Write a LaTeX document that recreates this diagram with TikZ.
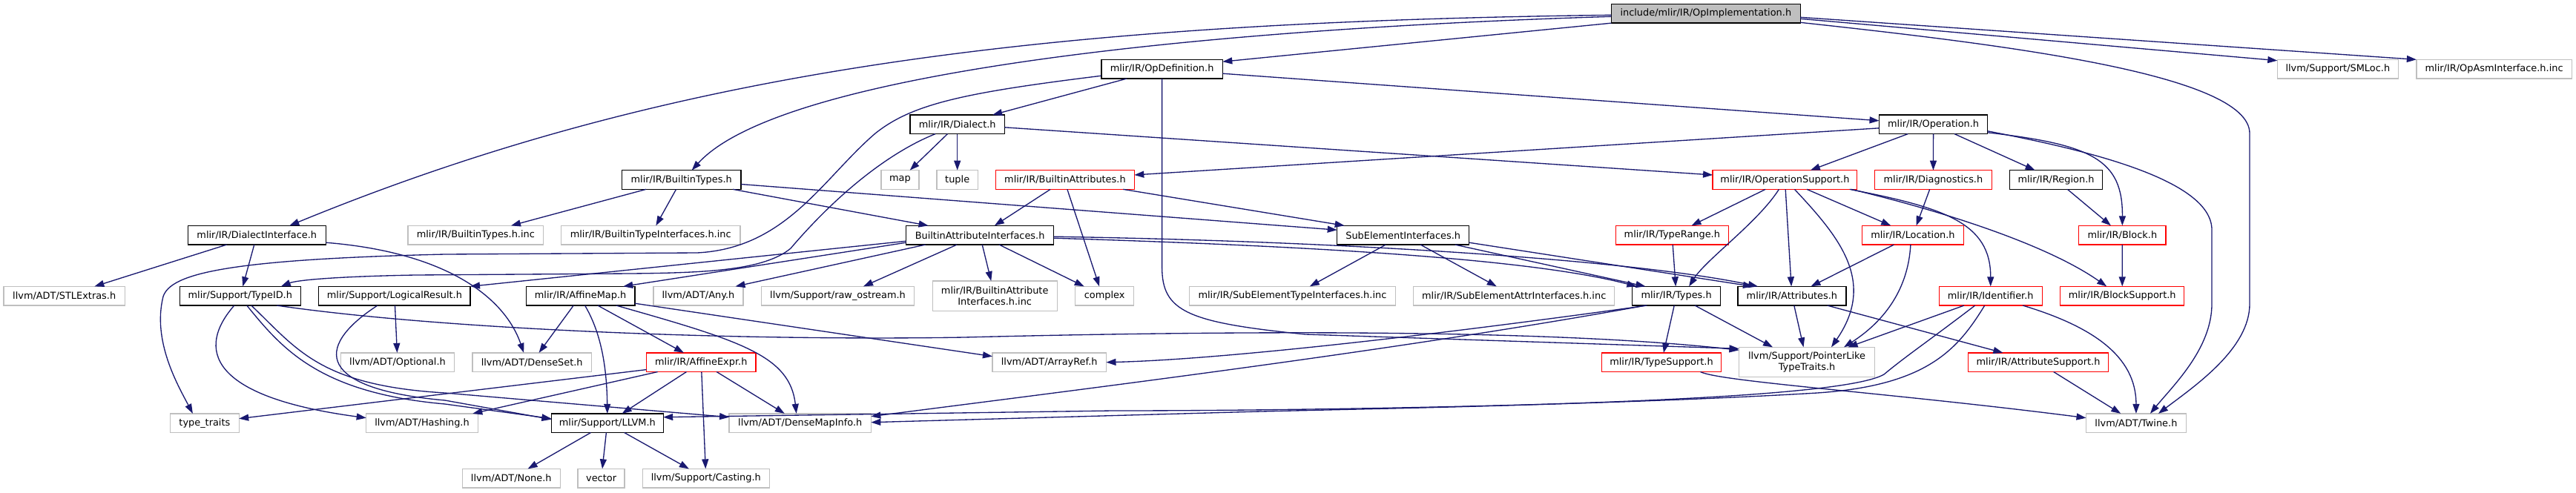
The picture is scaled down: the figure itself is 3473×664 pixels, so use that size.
\documentclass[tikz,border=0pt]{standalone}
\usepackage{fontspec}
\newfontfamily\dvs{DejaVu Sans}
\usetikzlibrary{arrows.meta,calc}
\definecolor{edgec}{HTML}{191970}
\definecolor{greyb}{HTML}{BFBFBF}
\definecolor{redb}{HTML}{FF0000}
\begin{document}
\begin{tikzpicture}[x=1pt,y=-1pt,
 nbox/.style={draw=black, line width=1.33pt, minimum height=25.7pt, inner sep=0pt, outer sep=0pt,
   font=\dvs\fontsize{12.9}{14.5}\selectfont, text=black, fill=white, align=center},
 extbox/.style={nbox, draw=greyb},
 redbox/.style={nbox, draw=redb},
 rootbox/.style={nbox, fill=greyb},
 dep/.style={draw=edgec, line width=1.33pt, -{Triangle[length=13pt,width=9pt]}}
]
\useasboundingbox (0,0) rectangle (3473,664);
% row 0
\node[rootbox, minimum width=254.8pt] (root) at (2299.8,18.3) {include/mlir/IR/OpImplementation.h};
% row 1
\node[nbox, minimum width=163.4pt] (opdef) at (1566.6,93.2) {mlir/IR/OpDefinition.h};
\node[extbox, minimum width=163pt] (smloc) at (3151.8,93.2) {llvm/Support/SMLoc.h};
\node[extbox, minimum width=209.6pt] (opasm) at (3362.6,93.2) {mlir/IR/OpAsmInterface.h.inc};
% row 2
\node[nbox, minimum width=127.4pt] (dialect) at (1290.7,167.8) {mlir/IR/Dialect.h};
\node[nbox, minimum width=146.2pt] (operation) at (2606.6,167.8) {mlir/IR/Operation.h};
% row 3
\node[nbox, minimum width=160.7pt] (btypes) at (918.7,242.5) {mlir/IR/BuiltinTypes.h};
\node[extbox, minimum width=51pt] (map) at (1213.4,242.5) {map};
\node[extbox, minimum width=55.5pt] (tuple) at (1290.7,242.5) {tuple};
\node[redbox, minimum width=186.8pt] (battrs) at (1435.9,242.5) {mlir/IR/BuiltinAttributes.h};
\node[redbox, minimum width=194.7pt] (opsupport) at (2406.4,242.5) {mlir/IR/OperationSupport.h};
\node[redbox, minimum width=158pt] (diag) at (2606.4,242.5) {mlir/IR/Diagnostics.h};
\node[nbox, minimum width=125.5pt] (region) at (2772,242.5) {mlir/IR/Region.h};
% row 4
\node[nbox, minimum width=186pt] (diif) at (346.3,317.2) {mlir/IR/DialectInterface.h};
\node[extbox, minimum width=182.7pt] (btinc) at (641.3,317.2) {mlir/IR/BuiltinTypes.h.inc};
\node[extbox, minimum width=241.5pt] (btiinc) at (877.2,317.2) {mlir/IR/BuiltinTypeInterfaces.h.inc};
\node[nbox, minimum width=199pt] (bai) at (1321.1,317.2) {BuiltinAttributeInterfaces.h};
\node[nbox, minimum width=178pt] (sei) at (1891.7,317.2) {SubElementInterfaces.h};
\node[redbox, minimum width=152.3pt] (typerange) at (2254.3,317.2) {mlir/IR/TypeRange.h};
\node[redbox, minimum width=136.6pt] (location) at (2578.9,317.2) {mlir/IR/Location.h};
\node[redbox, minimum width=117.5pt] (block) at (2861.3,317.2) {mlir/IR/Block.h};
% row 5
\node[extbox, minimum width=163.4pt] (stlextras) at (86.7,399.2) {llvm/ADT/STLExtras.h};
\node[nbox, minimum width=163pt] (typeid) at (323.8,399.2) {mlir/Support/TypeID.h};
\node[nbox, minimum width=204.2pt] (logical) at (531.9,399.2) {mlir/Support/LogicalResult.h};
\node[nbox, minimum width=146.5pt] (affinemap) at (782.6,399.2) {mlir/IR/AffineMap.h};
\node[extbox, minimum width=121.3pt] (any) at (941.5,399.2) {llvm/ADT/Any.h};
\node[extbox, minimum width=206.5pt] (rawos) at (1129.5,399.2) {llvm/Support/raw\_ostream.h};
\node[extbox, minimum width=168pt, minimum height=40.3pt] (baiinc) at (1341.2,399.2) {mlir/IR/BuiltinAttribute\\Interfaces.h.inc};
\node[extbox, minimum width=78.8pt] (complex) at (1489.1,399.2) {complex};
\node[extbox, minimum width=277.7pt] (setinc) at (1742.4,399.2) {mlir/IR/SubElementTypeInterfaces.h.inc};
\node[extbox, minimum width=271pt] (seainc) at (2041.2,399.2) {mlir/IR/SubElementAttrInterfaces.h.inc};
\node[nbox, minimum width=119.4pt] (types) at (2260.1,399.2) {mlir/IR/Types.h};
\node[nbox, minimum width=145.8pt] (attrs) at (2415.9,399.2) {mlir/IR/Attributes.h};
\node[redbox, minimum width=138.9pt] (identifier) at (2683.7,399.2) {mlir/IR/Identifier.h};
\node[redbox, minimum width=167pt] (blocksupport) at (2861.2,399.2) {mlir/IR/BlockSupport.h};
% row 6
\node[extbox, minimum width=153pt] (optional) at (536,488.7) {llvm/ADT/Optional.h};
\node[extbox, minimum width=160.4pt] (denseset) at (717.2,488.7) {llvm/ADT/DenseSet.h};
\node[redbox, minimum width=147.4pt] (affineexpr) at (945.3,488.7) {mlir/IR/AffineExpr.h};
\node[extbox, minimum width=153.5pt] (arrayref) at (1414.7,488.7) {llvm/ADT/ArrayRef.h};
\node[redbox, minimum width=161pt] (typesupport) at (2240,488.7) {mlir/IR/TypeSupport.h};
\node[extbox, minimum width=183pt, minimum height=40pt] (pltt) at (2436,488.3) {llvm/Support/PointerLike\\TypeTraits.h};
\node[redbox, minimum width=188.6pt] (attrsupport) at (2748,488.7) {mlir/IR/AttributeSupport.h};
% row 7
\node[extbox, minimum width=92.6pt] (typetraits) at (275.9,570.7) {type\_traits};
\node[extbox, minimum width=150.6pt] (hashing) at (569,570.7) {llvm/ADT/Hashing.h};
\node[nbox, minimum width=150.8pt] (llvm) at (818.8,570.7) {mlir/Support/LLVM.h};
\node[extbox, minimum width=191.3pt] (densemapinfo) at (1078.7,570.7) {llvm/ADT/DenseMapInfo.h};
\node[extbox, minimum width=134.8pt] (twine) at (2879.9,570.7) {llvm/ADT/Twine.h};
% row 8
\node[extbox, minimum width=132pt] (none) at (689.3,645.2) {llvm/ADT/None.h};
\node[extbox, minimum width=63.1pt] (vector) at (810.6,645.2) {vector};
\node[extbox, minimum width=171pt] (casting) at (951.8,645.2) {llvm/Support/Casting.h};

% ---- edges: root
\draw[dep] (root.south west) -- ($(opdef.east)+(0,-10)$);
\draw[dep] ($(root.east)+(0,7)$) -- ($(smloc.west)+(0,-11.5)$);
\draw[dep] ($(root.east)+(0,5)$) -- (opasm.north west);
\draw[dep] ($(root.east)+(0,12)$) .. controls (2700,60) and (3033,100) .. (3033,180) -- (3033,410) .. controls (3033,470) and (2960,520) .. ($(twine.north)+(30,0)$);
\draw[dep] ($(root.west)+(0,2)$) .. controls (1400,30) and (900,95) .. ($(diif.north)+(44,0)$);
\draw[dep] ($(root.west)+(0,4)$) .. controls (1600,40) and (1050,100) .. ($(btypes.north)+(14,0)$);
% opdef
\draw[dep] (opdef) -- (dialect);
\draw[dep] ($(opdef.east)+(0,6)$) -- ($(operation.west)+(0,-5)$);
\draw[dep] (opdef.south) -- (1566.6,360) .. controls (1566.6,420) and (1600,435) .. (1760,451) -- ($(pltt.west)+(0,-18)$);
\draw[dep] ($(opdef.west)+(0,9)$) .. controls (1300,125) and (1230,140) .. (1180,180) .. controls (1110,240) and (1060,335) .. (940,341) -- (600,343) .. controls (300,350) and (230,370) .. (220,400) .. controls (205,460) and (240,520) .. ($(typetraits.north)+(-16,0)$);
% dialect
\draw[dep] ($(dialect.east)+(0,4)$) -- ($(opsupport.west)+(0,-6.5)$);
\draw[dep] (dialect) -- (map);
\draw[dep] (dialect) -- (tuple);
\draw[dep] ($(dialect.south west)+(34,0)$) .. controls (1200,205) and (1130,260) .. (1066,335) .. controls (1030,365) and (950,368) .. (850,369) -- (560,371) .. controls (450,373) and (400,378) .. ($(typeid.north)+(55,0)$);
% operation
\draw[dep] (operation) -- (opsupport);
\draw[dep] (operation) -- (diag);
\draw[dep] (operation) -- (region);
\draw[dep] ($(operation.west)+(0,5)$) -- ($(battrs.east)+(0,-6.5)$);
\draw[dep] ($(operation.east)+(0,11)$) .. controls (2820,195) and (2862,215) .. (block.north);
\draw[dep] ($(operation.east)+(0,9)$) .. controls (2800,200) and (2982,240) .. (2982,310) -- (2982,410) .. controls (2982,470) and (2930,520) .. ($(twine.north)+(19,0)$);
% builtin types
\draw[dep] (btypes) -- (btinc);
\draw[dep] (btypes) -- (btiinc);
\draw[dep] ($(btypes.south east)+(-11,0)$) -- ($(bai.north west)+(30,0)$);
\draw[dep] ($(btypes.east)+(0,6)$) -- ($(sei.west)+(0,-7)$);
% builtin attributes
\draw[dep] (battrs) -- (bai);
\draw[dep] ($(battrs.south)+(3,0)$) -- ($(complex.north)+(-7,0)$);
\draw[dep] ($(battrs.south east)+(-15,0)$) -- ($(sei.north west)+(10,0)$);
% operation support
\draw[dep] (opsupport) -- (typerange);
\draw[dep] ($(opsupport.south)+(-8,0)$) .. controls (2370,300) and (2300,350) .. ($(types.north)+(17,0)$);
\draw[dep] (opsupport) -- (attrs);
\draw[dep] ($(opsupport.south)+(13,0)$) .. controls (2480,320) and (2530,380) .. ($(pltt.north)+(33,0)$);
\draw[dep] (opsupport) -- (location);
\draw[dep] ($(opsupport.south east)+(-10,0)$) .. controls (2620,280) and (2684,300) .. (identifier.north);
\draw[dep] ($(opsupport.south east)+(-8,0)$) .. controls (2620,285) and (2760,330) .. ($(blocksupport.north)+(-21,0)$);
% diag, region, block
\draw[dep] (diag) -- (location);
\draw[dep] (region) -- (block);
\draw[dep] (block) -- (blocksupport);
% dialect interface
\draw[dep] (diif) -- (stlextras);
\draw[dep] (diif) -- (typeid);
\draw[dep] ($(diif.east)+(0,10)$) .. controls (600,340) and (680,400) .. ($(denseset.north)+(-11,0)$);
% builtin attribute interfaces
\draw[dep] ($(bai.west)+(0,8)$) -- (logical.north east);
\draw[dep] ($(bai.west)+(0,10)$) -- ($(affinemap.north)+(57.6,0)$);
\draw[dep] ($(bai.south west)+(26,0)$) -- ($(any.north)+(50,0)$);
\draw[dep] ($(bai.south)+(-31,0)$) -- ($(rawos.north)+(34.5,0)$);
\draw[dep] (bai) -- (baiinc);
\draw[dep] ($(bai.south)+(26,0)$) -- ($(complex.north west)+(12,0)$);
\draw[dep] ($(bai.east)+(0,4)$) .. controls (1700,330) and (2050,345) .. ($(types.north west)+(6,0)$);
\draw[dep] ($(bai.east)+(0,2)$) .. controls (1800,325) and (2200,350) .. ($(attrs.north west)+(27,0)$);
% sub element interfaces
\draw[dep] (sei) -- (setinc);
\draw[dep] (sei) -- (seainc);
\draw[dep] ($(sei.south east)+(-19,0)$) -- ($(types.north west)+(18,0)$);
\draw[dep] ($(sei.east)+(0,10)$) -- ($(attrs.north west)+(20,0)$);
% type range, location
\draw[dep] (typerange) -- (types);
\draw[dep] (location) -- (attrs);
\draw[dep] ($(location.south)+(-3,0)$) .. controls (2572,400) and (2530,440) .. ($(pltt.north)+(50,0)$);
% type id
\draw[dep] ($(typeid.south)+(-8,0)$) .. controls (265,470) and (280,535) .. ($(hashing.west)+(0,-7)$);
\draw[dep] ($(typeid.south)+(9,0)$) .. controls (380,470) and (430,530) .. (600,545) -- ($(llvm.west)+(0,-6)$);
\draw[dep] ($(typeid.south)+(15,0)$) .. controls (400,470) and (430,520) .. (600,530) -- ($(densemapinfo.west)+(0,-8)$);
\draw[dep] ($(typeid.south east)+(-32,0)$) .. controls (600,445) and (1000,460) .. (1300,455) .. controls (1700,445) and (2100,445) .. ($(pltt.west)+(0,-16)$);
% logical result
\draw[dep] (logical) -- (optional);
\draw[dep] ($(logical.south)+(-23,0)$) .. controls (420,470) and (430,525) .. (600,540) -- ($(llvm.west)+(0,-5)$);
% affine map
\draw[dep] (affinemap) -- (denseset);
\draw[dep] ($(affinemap.south)+(6,0)$) .. controls (805,440) and (818,480) .. (llvm.north);
\draw[dep] (affinemap) -- (affineexpr);
\draw[dep] ($(affinemap.south east)+(-25,0)$) .. controls (1000,460) and (1065,480) .. ($(densemapinfo.north)+(-5,0)$);
\draw[dep] ($(affinemap.east)+(0,10)$) -- ($(arrayref.west)+(0,-8)$);
% affine expr
\draw[dep] (affineexpr) -- (llvm);
\draw[dep] (affineexpr) -- (densemapinfo);
\draw[dep] (affineexpr) -- (casting);
\draw[dep] ($(affineexpr.south west)+(15,0)$) -- ($(hashing.north east)+(-7,0)$);
\draw[dep] ($(affineexpr.south west)+(0,-3)$) -- ($(typetraits.east)+(0,-6)$);
% llvm
\draw[dep] (llvm) -- (none);
\draw[dep] (llvm) -- (vector);
\draw[dep] (llvm) -- (casting);
% types
\draw[dep] (types) -- (typesupport);
\draw[dep] ($(types.south)+(25,0)$) -- ($(pltt.north)+(-46,0)$);
\draw[dep] ($(types.south west)+(20,0)$) .. controls (1950,450) and (1650,485) .. (arrayref.east);
\draw[dep] ($(types.south west)+(18,0)$) .. controls (1900,470) and (1500,520) .. ($(densemapinfo.east)+(0,-9)$);
% attributes
\draw[dep] (attrs) -- (pltt);
\draw[dep] (attrs) -- (attrsupport);
% identifier
\draw[dep] (identifier) -- (pltt);
\draw[dep] ($(identifier.south east)+(-26,0)$) .. controls (2820,440) and (2880,480) .. (twine.north);
\draw[dep] ($(identifier.south)+(-8,0)$) .. controls (2640,470) and (2600,520) .. (2450,530) .. controls (2200,545) and (1800,554) .. (1500,554) -- ($(llvm.east)+(0,-8)$);
\draw[dep] ($(identifier.south)+(-21,0)$) .. controls (2600,460) and (2570,480) .. (2540,505) .. controls (2480,540) and (2000,548) .. (1700,555) -- ($(densemapinfo.east)+(0,-1)$);
% supports
\draw[dep] (attrsupport) -- (twine);
\draw[dep] ($(typesupport.south east)+(-28,0)$) .. controls (2320,515) and (2550,530) .. ($(twine.west)+(0,-7)$);
\end{tikzpicture}
\end{document}
